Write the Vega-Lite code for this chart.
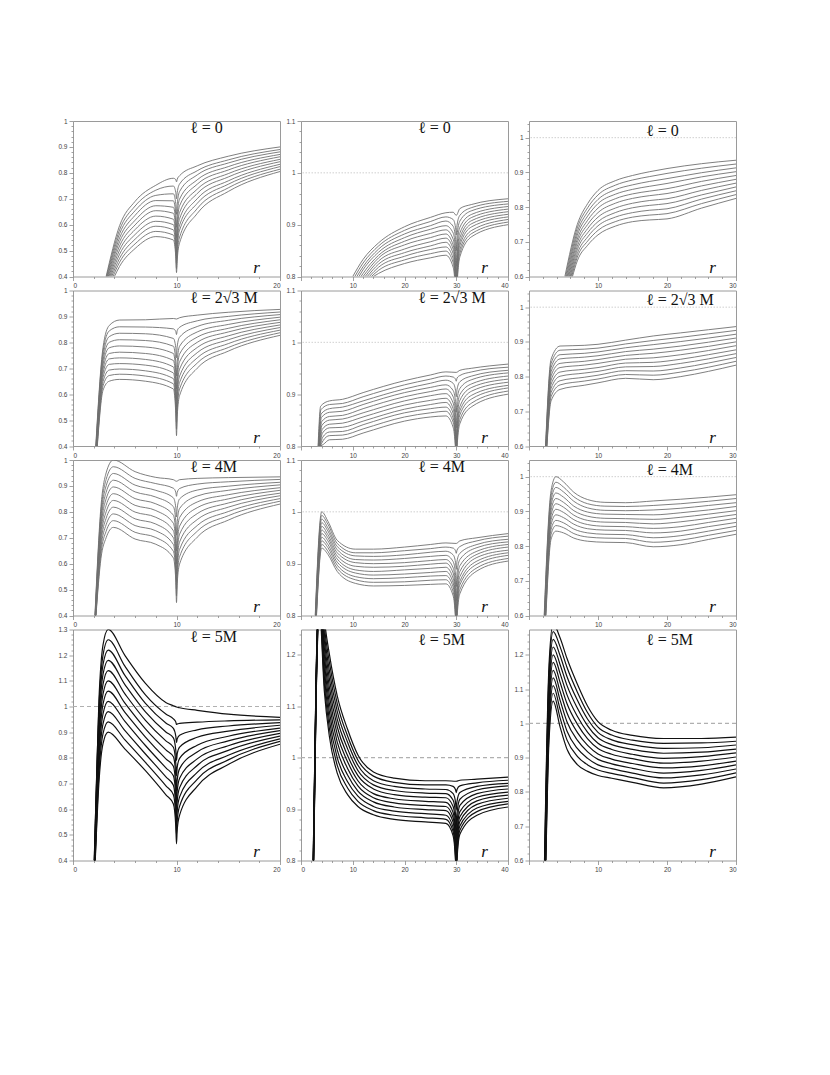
{
"$schema":"https://vega.github.io/schema/vega-lite/v6.json",
"background":"white",
"padding":{"left":57,"top":117,"right":5,"bottom":5},
"columns":3,
"spacing":{"row":13.5,"column":21},
"bounds":"flush",
"config":{
 "view":{"stroke":"#9a9a9a","strokeWidth":1},
 "axis":{"grid":false,"domain":false,"tickColor":"#8a8a8a","tickWidth":0.8,"labelFont":"Liberation Sans","labelFontSize":6.5,"labelColor":"#444","labelPadding":2,"labelOverlap":false,"titleFont":"Liberation Serif","titleFontStyle":"italic","titleFontWeight":"normal","titleFontSize":17,"titleColor":"#111"},
 "axisX":{"titleX":183,"titleY":-4,"titleAlign":"center","titleBaseline":"alphabetic"},
 "title":{"anchor":"start","frame":"group","dx":117,"offset":-18,"font":"Liberation Serif","fontSize":16,"fontWeight":"normal","color":"#111"}
},
"datasets":{
"a1":[
{"c":0,"x":3.2,"y":0.4},{"c":0,"x":4.5,"y":0.596},{"c":0,"x":6,"y":0.69},{"c":0,"x":8,"y":0.752},{"c":0,"x":9.7,"y":0.779},{"c":0,"x":9.93,"y":0.774},{"c":0,"x":10,"y":0.765},{"c":0,"x":10.07,"y":0.775},{"c":0,"x":10.3,"y":0.789},{"c":0,"x":12,"y":0.827},{"c":0,"x":15,"y":0.864},{"c":0,"x":20,"y":0.9},
{"c":1,"x":3.24,"y":0.4},{"c":1,"x":4.5,"y":0.58},{"c":1,"x":6,"y":0.672},{"c":1,"x":8,"y":0.733},{"c":1,"x":9.7,"y":0.749},{"c":1,"x":9.93,"y":0.725},{"c":1,"x":10,"y":0.7},{"c":1,"x":10.07,"y":0.724},{"c":1,"x":10.3,"y":0.757},{"c":1,"x":12,"y":0.808},{"c":1,"x":15,"y":0.85},{"c":1,"x":20,"y":0.89},
{"c":2,"x":3.29,"y":0.4},{"c":2,"x":4.5,"y":0.565},{"c":2,"x":6,"y":0.654},{"c":2,"x":8,"y":0.713},{"c":2,"x":9.7,"y":0.719},{"c":2,"x":9.93,"y":0.681},{"c":2,"x":10,"y":0.64},{"c":2,"x":10.07,"y":0.679},{"c":2,"x":10.3,"y":0.728},{"c":2,"x":12,"y":0.792},{"c":2,"x":15,"y":0.838},{"c":2,"x":20,"y":0.881},
{"c":3,"x":3.34,"y":0.4},{"c":3,"x":4.5,"y":0.549},{"c":3,"x":6,"y":0.636},{"c":3,"x":8,"y":0.693},{"c":3,"x":9.7,"y":0.692},{"c":3,"x":9.93,"y":0.641},{"c":3,"x":10,"y":0.59},{"c":3,"x":10.07,"y":0.637},{"c":3,"x":10.3,"y":0.699},{"c":3,"x":12,"y":0.773},{"c":3,"x":15,"y":0.824},{"c":3,"x":20,"y":0.871},
{"c":4,"x":3.4,"y":0.4},{"c":4,"x":4.5,"y":0.534},{"c":4,"x":6,"y":0.617},{"c":4,"x":8,"y":0.673},{"c":4,"x":9.7,"y":0.667},{"c":4,"x":9.93,"y":0.608},{"c":4,"x":10,"y":0.55},{"c":4,"x":10.07,"y":0.603},{"c":4,"x":10.3,"y":0.673},{"c":4,"x":12,"y":0.756},{"c":4,"x":15,"y":0.811},{"c":4,"x":20,"y":0.862},
{"c":5,"x":3.47,"y":0.4},{"c":5,"x":4.5,"y":0.518},{"c":5,"x":6,"y":0.599},{"c":5,"x":8,"y":0.654},{"c":5,"x":9.7,"y":0.644},{"c":5,"x":9.93,"y":0.582},{"c":5,"x":10,"y":0.52},{"c":5,"x":10.07,"y":0.575},{"c":5,"x":10.3,"y":0.647},{"c":5,"x":12,"y":0.737},{"c":5,"x":15,"y":0.797},{"c":5,"x":20,"y":0.852},
{"c":6,"x":3.55,"y":0.4},{"c":6,"x":4.5,"y":0.502},{"c":6,"x":6,"y":0.581},{"c":6,"x":8,"y":0.633},{"c":6,"x":9.7,"y":0.621},{"c":6,"x":9.93,"y":0.555},{"c":6,"x":10,"y":0.49},{"c":6,"x":10.07,"y":0.549},{"c":6,"x":10.3,"y":0.623},{"c":6,"x":12,"y":0.72},{"c":6,"x":15,"y":0.784},{"c":6,"x":20,"y":0.843},
{"c":7,"x":3.64,"y":0.4},{"c":7,"x":4.5,"y":0.486},{"c":7,"x":6,"y":0.562},{"c":7,"x":8,"y":0.613},{"c":7,"x":9.7,"y":0.6},{"c":7,"x":9.93,"y":0.535},{"c":7,"x":10,"y":0.47},{"c":7,"x":10.07,"y":0.528},{"c":7,"x":10.3,"y":0.598},{"c":7,"x":12,"y":0.7},{"c":7,"x":15,"y":0.769},{"c":7,"x":20,"y":0.833},
{"c":8,"x":3.74,"y":0.4},{"c":8,"x":4.5,"y":0.47},{"c":8,"x":6,"y":0.544},{"c":8,"x":8,"y":0.594},{"c":8,"x":9.7,"y":0.58},{"c":8,"x":9.93,"y":0.515},{"c":8,"x":10,"y":0.45},{"c":8,"x":10.07,"y":0.507},{"c":8,"x":10.3,"y":0.579},{"c":8,"x":12,"y":0.682},{"c":8,"x":15,"y":0.756},{"c":8,"x":20,"y":0.824},
{"c":9,"x":3.86,"y":0.4},{"c":9,"x":4.5,"y":0.455},{"c":9,"x":6,"y":0.526},{"c":9,"x":8,"y":0.574},{"c":9,"x":9.7,"y":0.56},{"c":9,"x":9.93,"y":0.494},{"c":9,"x":10,"y":0.43},{"c":9,"x":10.07,"y":0.484},{"c":9,"x":10.3,"y":0.552},{"c":9,"x":12,"y":0.662},{"c":9,"x":15,"y":0.742},{"c":9,"x":20,"y":0.814},
{"c":10,"x":4,"y":0.4},{"c":10,"x":4.5,"y":0.439},{"c":10,"x":6,"y":0.508},{"c":10,"x":8,"y":0.554},{"c":10,"x":9.7,"y":0.541},{"c":10,"x":9.93,"y":0.477},{"c":10,"x":10,"y":0.415},{"c":10,"x":10.07,"y":0.464},{"c":10,"x":10.3,"y":0.53},{"c":10,"x":12,"y":0.643},{"c":10,"x":15,"y":0.728},{"c":10,"x":20,"y":0.805}
],
"a2":[
{"c":0,"x":2.2,"y":0.4},{"c":0,"x":2.9,"y":0.78},{"c":0,"x":3.5,"y":0.865},{"c":0,"x":4.5,"y":0.886},{"c":0,"x":7,"y":0.887},{"c":0,"x":9.7,"y":0.892},{"c":0,"x":10,"y":0.89},{"c":0,"x":10.3,"y":0.895},{"c":0,"x":12,"y":0.905},{"c":0,"x":15,"y":0.916},{"c":0,"x":20,"y":0.927},
{"c":1,"x":2.215,"y":0.4},{"c":1,"x":2.9,"y":0.764},{"c":1,"x":3.5,"y":0.844},{"c":1,"x":4.5,"y":0.86},{"c":1,"x":7,"y":0.859},{"c":1,"x":9.7,"y":0.852},{"c":1,"x":9.93,"y":0.842},{"c":1,"x":10,"y":0.83},{"c":1,"x":10.07,"y":0.845},{"c":1,"x":10.3,"y":0.858},{"c":1,"x":12,"y":0.883},{"c":1,"x":15,"y":0.9},{"c":1,"x":20,"y":0.917},
{"c":2,"x":2.23,"y":0.4},{"c":2,"x":2.9,"y":0.747},{"c":2,"x":3.5,"y":0.822},{"c":2,"x":4.5,"y":0.835},{"c":2,"x":7,"y":0.833},{"c":2,"x":9.7,"y":0.815},{"c":2,"x":9.93,"y":0.78},{"c":2,"x":10,"y":0.74},{"c":2,"x":10.07,"y":0.785},{"c":2,"x":10.3,"y":0.82},{"c":2,"x":12,"y":0.861},{"c":2,"x":15,"y":0.885},{"c":2,"x":20,"y":0.907},
{"c":3,"x":2.245,"y":0.4},{"c":3,"x":2.9,"y":0.73},{"c":3,"x":3.5,"y":0.8},{"c":3,"x":4.5,"y":0.81},{"c":3,"x":7,"y":0.807},{"c":3,"x":9.7,"y":0.785},{"c":3,"x":9.93,"y":0.727},{"c":3,"x":10,"y":0.67},{"c":3,"x":10.07,"y":0.727},{"c":3,"x":10.3,"y":0.785},{"c":3,"x":12,"y":0.84},{"c":3,"x":15,"y":0.869},{"c":3,"x":20,"y":0.897},
{"c":4,"x":2.26,"y":0.4},{"c":4,"x":2.9,"y":0.714},{"c":4,"x":3.5,"y":0.779},{"c":4,"x":4.5,"y":0.786},{"c":4,"x":7,"y":0.782},{"c":4,"x":9.7,"y":0.757},{"c":4,"x":9.93,"y":0.688},{"c":4,"x":10,"y":0.62},{"c":4,"x":10.07,"y":0.686},{"c":4,"x":10.3,"y":0.755},{"c":4,"x":12,"y":0.82},{"c":4,"x":15,"y":0.854},{"c":4,"x":20,"y":0.887},
{"c":5,"x":2.275,"y":0.4},{"c":5,"x":2.9,"y":0.697},{"c":5,"x":3.5,"y":0.757},{"c":5,"x":4.5,"y":0.762},{"c":5,"x":7,"y":0.757},{"c":5,"x":9.7,"y":0.73},{"c":5,"x":9.93,"y":0.655},{"c":5,"x":10,"y":0.58},{"c":5,"x":10.07,"y":0.652},{"c":5,"x":10.3,"y":0.725},{"c":5,"x":12,"y":0.8},{"c":5,"x":15,"y":0.84},{"c":5,"x":20,"y":0.877},
{"c":6,"x":2.29,"y":0.4},{"c":6,"x":2.9,"y":0.681},{"c":6,"x":3.5,"y":0.736},{"c":6,"x":4.5,"y":0.74},{"c":6,"x":7,"y":0.734},{"c":6,"x":9.7,"y":0.705},{"c":6,"x":9.93,"y":0.626},{"c":6,"x":10,"y":0.55},{"c":6,"x":10.07,"y":0.62},{"c":6,"x":10.3,"y":0.697},{"c":6,"x":12,"y":0.78},{"c":6,"x":15,"y":0.825},{"c":6,"x":20,"y":0.867},
{"c":7,"x":2.305,"y":0.4},{"c":7,"x":2.9,"y":0.665},{"c":7,"x":3.5,"y":0.715},{"c":7,"x":4.5,"y":0.718},{"c":7,"x":7,"y":0.712},{"c":7,"x":9.7,"y":0.682},{"c":7,"x":9.93,"y":0.6},{"c":7,"x":10,"y":0.52},{"c":7,"x":10.07,"y":0.592},{"c":7,"x":10.3,"y":0.67},{"c":7,"x":12,"y":0.76},{"c":7,"x":15,"y":0.81},{"c":7,"x":20,"y":0.857},
{"c":8,"x":2.32,"y":0.4},{"c":8,"x":2.9,"y":0.648},{"c":8,"x":3.5,"y":0.693},{"c":8,"x":4.5,"y":0.697},{"c":8,"x":7,"y":0.69},{"c":8,"x":9.7,"y":0.66},{"c":8,"x":9.93,"y":0.572},{"c":8,"x":10,"y":0.49},{"c":8,"x":10.07,"y":0.564},{"c":8,"x":10.3,"y":0.645},{"c":8,"x":12,"y":0.74},{"c":8,"x":15,"y":0.795},{"c":8,"x":20,"y":0.847},
{"c":9,"x":2.335,"y":0.4},{"c":9,"x":2.9,"y":0.632},{"c":9,"x":3.5,"y":0.672},{"c":9,"x":4.5,"y":0.677},{"c":9,"x":7,"y":0.67},{"c":9,"x":9.7,"y":0.64},{"c":9,"x":9.93,"y":0.55},{"c":9,"x":10,"y":0.465},{"c":9,"x":10.07,"y":0.54},{"c":9,"x":10.3,"y":0.62},{"c":9,"x":12,"y":0.72},{"c":9,"x":15,"y":0.78},{"c":9,"x":20,"y":0.837},
{"c":10,"x":2.35,"y":0.4},{"c":10,"x":2.9,"y":0.615},{"c":10,"x":3.5,"y":0.65},{"c":10,"x":4.5,"y":0.657},{"c":10,"x":7,"y":0.65},{"c":10,"x":9.7,"y":0.62},{"c":10,"x":9.93,"y":0.525},{"c":10,"x":10,"y":0.44},{"c":10,"x":10.07,"y":0.515},{"c":10,"x":10.3,"y":0.595},{"c":10,"x":12,"y":0.7},{"c":10,"x":15,"y":0.766},{"c":10,"x":20,"y":0.827}
],
"a3":[
{"c":0,"x":2.12,"y":0.4},{"c":0,"x":2.7,"y":0.82},{"c":0,"x":3.2,"y":0.95},{"c":0,"x":3.9,"y":1.0},{"c":0,"x":6,"y":0.955},{"c":0,"x":8,"y":0.933},{"c":0,"x":9.7,"y":0.924},{"c":0,"x":10,"y":0.918},{"c":0,"x":10.3,"y":0.924},{"c":0,"x":12,"y":0.929},{"c":0,"x":15,"y":0.932},{"c":0,"x":20,"y":0.935},
{"c":1,"x":2.13,"y":0.4},{"c":1,"x":2.7,"y":0.8},{"c":1,"x":3.2,"y":0.925},{"c":1,"x":3.9,"y":0.974},{"c":1,"x":6,"y":0.929},{"c":1,"x":8,"y":0.909},{"c":1,"x":9.7,"y":0.891},{"c":1,"x":9.93,"y":0.876},{"c":1,"x":10,"y":0.86},{"c":1,"x":10.07,"y":0.875},{"c":1,"x":10.3,"y":0.89},{"c":1,"x":12,"y":0.907},{"c":1,"x":15,"y":0.916},{"c":1,"x":20,"y":0.925},
{"c":2,"x":2.14,"y":0.4},{"c":2,"x":2.7,"y":0.78},{"c":2,"x":3.2,"y":0.9},{"c":2,"x":3.9,"y":0.948},{"c":2,"x":6,"y":0.903},{"c":2,"x":8,"y":0.883},{"c":2,"x":9.7,"y":0.854},{"c":2,"x":9.93,"y":0.817},{"c":2,"x":10,"y":0.78},{"c":2,"x":10.07,"y":0.815},{"c":2,"x":10.3,"y":0.85},{"c":2,"x":12,"y":0.884},{"c":2,"x":15,"y":0.899},{"c":2,"x":20,"y":0.914},
{"c":3,"x":2.15,"y":0.4},{"c":3,"x":2.7,"y":0.76},{"c":3,"x":3.2,"y":0.875},{"c":3,"x":3.9,"y":0.922},{"c":3,"x":6,"y":0.877},{"c":3,"x":8,"y":0.857},{"c":3,"x":9.7,"y":0.82},{"c":3,"x":9.93,"y":0.765},{"c":3,"x":10,"y":0.71},{"c":3,"x":10.07,"y":0.762},{"c":3,"x":10.3,"y":0.813},{"c":3,"x":12,"y":0.861},{"c":3,"x":15,"y":0.883},{"c":3,"x":20,"y":0.904},
{"c":4,"x":2.16,"y":0.4},{"c":4,"x":2.7,"y":0.74},{"c":4,"x":3.2,"y":0.85},{"c":4,"x":3.9,"y":0.896},{"c":4,"x":6,"y":0.851},{"c":4,"x":8,"y":0.831},{"c":4,"x":9.7,"y":0.787},{"c":4,"x":9.93,"y":0.718},{"c":4,"x":10,"y":0.65},{"c":4,"x":10.07,"y":0.714},{"c":4,"x":10.3,"y":0.778},{"c":4,"x":12,"y":0.838},{"c":4,"x":15,"y":0.866},{"c":4,"x":20,"y":0.893},
{"c":5,"x":2.17,"y":0.4},{"c":5,"x":2.7,"y":0.72},{"c":5,"x":3.2,"y":0.825},{"c":5,"x":3.9,"y":0.87},{"c":5,"x":6,"y":0.825},{"c":5,"x":8,"y":0.805},{"c":5,"x":9.7,"y":0.756},{"c":5,"x":9.93,"y":0.678},{"c":5,"x":10,"y":0.6},{"c":5,"x":10.07,"y":0.672},{"c":5,"x":10.3,"y":0.745},{"c":5,"x":12,"y":0.816},{"c":5,"x":15,"y":0.85},{"c":5,"x":20,"y":0.883},
{"c":6,"x":2.18,"y":0.4},{"c":6,"x":2.7,"y":0.7},{"c":6,"x":3.2,"y":0.8},{"c":6,"x":3.9,"y":0.844},{"c":6,"x":6,"y":0.799},{"c":6,"x":8,"y":0.779},{"c":6,"x":9.7,"y":0.727},{"c":6,"x":9.93,"y":0.644},{"c":6,"x":10,"y":0.56},{"c":6,"x":10.07,"y":0.637},{"c":6,"x":10.3,"y":0.714},{"c":6,"x":12,"y":0.793},{"c":6,"x":15,"y":0.834},{"c":6,"x":20,"y":0.872},
{"c":7,"x":2.19,"y":0.4},{"c":7,"x":2.7,"y":0.68},{"c":7,"x":3.2,"y":0.775},{"c":7,"x":3.9,"y":0.818},{"c":7,"x":6,"y":0.773},{"c":7,"x":8,"y":0.753},{"c":7,"x":9.7,"y":0.7},{"c":7,"x":9.93,"y":0.615},{"c":7,"x":10,"y":0.53},{"c":7,"x":10.07,"y":0.607},{"c":7,"x":10.3,"y":0.684},{"c":7,"x":12,"y":0.77},{"c":7,"x":15,"y":0.818},{"c":7,"x":20,"y":0.862},
{"c":8,"x":2.2,"y":0.4},{"c":8,"x":2.7,"y":0.66},{"c":8,"x":3.2,"y":0.75},{"c":8,"x":3.9,"y":0.792},{"c":8,"x":6,"y":0.747},{"c":8,"x":8,"y":0.727},{"c":8,"x":9.7,"y":0.674},{"c":8,"x":9.93,"y":0.587},{"c":8,"x":10,"y":0.5},{"c":8,"x":10.07,"y":0.578},{"c":8,"x":10.3,"y":0.655},{"c":8,"x":12,"y":0.747},{"c":8,"x":15,"y":0.801},{"c":8,"x":20,"y":0.851},
{"c":9,"x":2.21,"y":0.4},{"c":9,"x":2.7,"y":0.64},{"c":9,"x":3.2,"y":0.725},{"c":9,"x":3.9,"y":0.766},{"c":9,"x":6,"y":0.721},{"c":9,"x":8,"y":0.701},{"c":9,"x":9.7,"y":0.648},{"c":9,"x":9.93,"y":0.561},{"c":9,"x":10,"y":0.475},{"c":9,"x":10.07,"y":0.551},{"c":9,"x":10.3,"y":0.627},{"c":9,"x":12,"y":0.725},{"c":9,"x":15,"y":0.785},{"c":9,"x":20,"y":0.841},
{"c":10,"x":2.22,"y":0.4},{"c":10,"x":2.7,"y":0.62},{"c":10,"x":3.2,"y":0.7},{"c":10,"x":3.9,"y":0.74},{"c":10,"x":6,"y":0.695},{"c":10,"x":8,"y":0.675},{"c":10,"x":9.7,"y":0.622},{"c":10,"x":9.93,"y":0.536},{"c":10,"x":10,"y":0.45},{"c":10,"x":10.07,"y":0.524},{"c":10,"x":10.3,"y":0.599},{"c":10,"x":12,"y":0.702},{"c":10,"x":15,"y":0.768},{"c":10,"x":20,"y":0.83}
],
"a4":[
{"c":0,"x":2.05,"y":0.4},{"c":0,"x":2.5,"y":1.02},{"c":0,"x":2.9,"y":1.24},{"c":0,"x":3.4,"y":1.3},{"c":0,"x":5,"y":1.2},{"c":0,"x":7,"y":1.09},{"c":0,"x":9,"y":1.015},{"c":0,"x":9.7,"y":1.003},{"c":0,"x":10,"y":0.998},{"c":0,"x":10.3,"y":0.995},{"c":0,"x":12,"y":0.985},{"c":0,"x":15,"y":0.97},{"c":0,"x":20,"y":0.958},
{"c":1,"x":2.06,"y":0.4},{"c":1,"x":2.5,"y":0.988},{"c":1,"x":2.9,"y":1.2},{"c":1,"x":3.4,"y":1.26},{"c":1,"x":5,"y":1.158},{"c":1,"x":7,"y":1.045},{"c":1,"x":9,"y":0.97},{"c":1,"x":9.7,"y":0.952},{"c":1,"x":9.93,"y":0.94},{"c":1,"x":10,"y":0.93},{"c":1,"x":10.07,"y":0.932},{"c":1,"x":10.3,"y":0.934},{"c":1,"x":12,"y":0.939},{"c":1,"x":15,"y":0.944},{"c":1,"x":20,"y":0.948},
{"c":2,"x":2.07,"y":0.4},{"c":2,"x":2.5,"y":0.956},{"c":2,"x":2.9,"y":1.163},{"c":2,"x":3.4,"y":1.22},{"c":2,"x":5,"y":1.122},{"c":2,"x":7,"y":1.012},{"c":2,"x":9,"y":0.935},{"c":2,"x":9.7,"y":0.915},{"c":2,"x":9.93,"y":0.885},{"c":2,"x":10,"y":0.86},{"c":2,"x":10.07,"y":0.874},{"c":2,"x":10.3,"y":0.888},{"c":2,"x":12,"y":0.909},{"c":2,"x":15,"y":0.924},{"c":2,"x":20,"y":0.937},
{"c":3,"x":2.08,"y":0.4},{"c":3,"x":2.5,"y":0.924},{"c":3,"x":2.9,"y":1.125},{"c":3,"x":3.4,"y":1.18},{"c":3,"x":5,"y":1.086},{"c":3,"x":7,"y":0.979},{"c":3,"x":9,"y":0.9},{"c":3,"x":9.7,"y":0.878},{"c":3,"x":9.93,"y":0.83},{"c":3,"x":10,"y":0.79},{"c":3,"x":10.07,"y":0.816},{"c":3,"x":10.3,"y":0.842},{"c":3,"x":12,"y":0.88},{"c":3,"x":15,"y":0.904},{"c":3,"x":20,"y":0.927},
{"c":4,"x":2.09,"y":0.4},{"c":4,"x":2.5,"y":0.892},{"c":4,"x":2.9,"y":1.086},{"c":4,"x":3.4,"y":1.14},{"c":4,"x":5,"y":1.05},{"c":4,"x":7,"y":0.946},{"c":4,"x":9,"y":0.865},{"c":4,"x":9.7,"y":0.841},{"c":4,"x":9.93,"y":0.78},{"c":4,"x":10,"y":0.73},{"c":4,"x":10.07,"y":0.764},{"c":4,"x":10.3,"y":0.798},{"c":4,"x":12,"y":0.849},{"c":4,"x":15,"y":0.884},{"c":4,"x":20,"y":0.916},
{"c":5,"x":2.1,"y":0.4},{"c":5,"x":2.5,"y":0.86},{"c":5,"x":2.9,"y":1.048},{"c":5,"x":3.4,"y":1.1},{"c":5,"x":5,"y":1.014},{"c":5,"x":7,"y":0.913},{"c":5,"x":9,"y":0.83},{"c":5,"x":9.7,"y":0.804},{"c":5,"x":9.93,"y":0.73},{"c":5,"x":10,"y":0.67},{"c":5,"x":10.07,"y":0.714},{"c":5,"x":10.3,"y":0.758},{"c":5,"x":12,"y":0.823},{"c":5,"x":15,"y":0.866},{"c":5,"x":20,"y":0.906},
{"c":6,"x":2.11,"y":0.4},{"c":6,"x":2.5,"y":0.828},{"c":6,"x":2.9,"y":1.009},{"c":6,"x":3.4,"y":1.06},{"c":6,"x":5,"y":0.978},{"c":6,"x":7,"y":0.881},{"c":6,"x":9,"y":0.795},{"c":6,"x":9.7,"y":0.767},{"c":6,"x":9.93,"y":0.686},{"c":6,"x":10,"y":0.62},{"c":6,"x":10.07,"y":0.67},{"c":6,"x":10.3,"y":0.72},{"c":6,"x":12,"y":0.796},{"c":6,"x":15,"y":0.847},{"c":6,"x":20,"y":0.895},
{"c":7,"x":2.12,"y":0.4},{"c":7,"x":2.5,"y":0.796},{"c":7,"x":2.9,"y":0.971},{"c":7,"x":3.4,"y":1.02},{"c":7,"x":5,"y":0.943},{"c":7,"x":7,"y":0.848},{"c":7,"x":9,"y":0.76},{"c":7,"x":9.7,"y":0.73},{"c":7,"x":9.93,"y":0.648},{"c":7,"x":10,"y":0.58},{"c":7,"x":10.07,"y":0.632},{"c":7,"x":10.3,"y":0.684},{"c":7,"x":12,"y":0.77},{"c":7,"x":15,"y":0.829},{"c":7,"x":20,"y":0.885},
{"c":8,"x":2.13,"y":0.4},{"c":8,"x":2.5,"y":0.764},{"c":8,"x":2.9,"y":0.932},{"c":8,"x":3.4,"y":0.98},{"c":8,"x":5,"y":0.907},{"c":8,"x":7,"y":0.815},{"c":8,"x":9,"y":0.725},{"c":8,"x":9.7,"y":0.693},{"c":8,"x":9.93,"y":0.609},{"c":8,"x":10,"y":0.54},{"c":8,"x":10.07,"y":0.594},{"c":8,"x":10.3,"y":0.648},{"c":8,"x":12,"y":0.743},{"c":8,"x":15,"y":0.81},{"c":8,"x":20,"y":0.874},
{"c":9,"x":2.14,"y":0.4},{"c":9,"x":2.5,"y":0.732},{"c":9,"x":2.9,"y":0.894},{"c":9,"x":3.4,"y":0.94},{"c":9,"x":5,"y":0.871},{"c":9,"x":7,"y":0.782},{"c":9,"x":9,"y":0.69},{"c":9,"x":9.7,"y":0.656},{"c":9,"x":9.93,"y":0.57},{"c":9,"x":10,"y":0.5},{"c":9,"x":10.07,"y":0.556},{"c":9,"x":10.3,"y":0.612},{"c":9,"x":12,"y":0.716},{"c":9,"x":15,"y":0.792},{"c":9,"x":20,"y":0.864},
{"c":10,"x":2.15,"y":0.4},{"c":10,"x":2.5,"y":0.7},{"c":10,"x":2.9,"y":0.855},{"c":10,"x":3.4,"y":0.9},{"c":10,"x":5,"y":0.835},{"c":10,"x":7,"y":0.75},{"c":10,"x":9,"y":0.655},{"c":10,"x":9.7,"y":0.62},{"c":10,"x":9.93,"y":0.535},{"c":10,"x":10,"y":0.465},{"c":10,"x":10.07,"y":0.521},{"c":10,"x":10.3,"y":0.577},{"c":10,"x":12,"y":0.689},{"c":10,"x":15,"y":0.774},{"c":10,"x":20,"y":0.853}
],
"b1":[
{"c":0,"x":10,"y":0.8},{"c":0,"x":12,"y":0.833},{"c":0,"x":15,"y":0.865},{"c":0,"x":20,"y":0.896},{"c":0,"x":25,"y":0.914},{"c":0,"x":28,"y":0.923},{"c":0,"x":29.4,"y":0.924},{"c":0,"x":30,"y":0.918},{"c":0,"x":30.7,"y":0.931},{"c":0,"x":33,"y":0.939},{"c":0,"x":40,"y":0.95},
{"c":1,"x":10.4,"y":0.8},{"c":1,"x":12,"y":0.826},{"c":1,"x":15,"y":0.859},{"c":1,"x":20,"y":0.889},{"c":1,"x":25,"y":0.906},{"c":1,"x":28,"y":0.915},{"c":1,"x":29.4,"y":0.91},{"c":1,"x":29.85,"y":0.895},{"c":1,"x":30,"y":0.88},{"c":1,"x":30.15,"y":0.899},{"c":1,"x":30.7,"y":0.918},{"c":1,"x":33,"y":0.933},{"c":1,"x":40,"y":0.945},
{"c":2,"x":10.8,"y":0.8},{"c":2,"x":12,"y":0.819},{"c":2,"x":15,"y":0.853},{"c":2,"x":20,"y":0.882},{"c":2,"x":25,"y":0.898},{"c":2,"x":28,"y":0.907},{"c":2,"x":29.4,"y":0.897},{"c":2,"x":29.85,"y":0.874},{"c":2,"x":30,"y":0.85},{"c":2,"x":30.15,"y":0.878},{"c":2,"x":30.7,"y":0.907},{"c":2,"x":33,"y":0.927},{"c":2,"x":40,"y":0.94},
{"c":3,"x":11.2,"y":0.8},{"c":3,"x":12,"y":0.813},{"c":3,"x":15,"y":0.847},{"c":3,"x":20,"y":0.875},{"c":3,"x":25,"y":0.891},{"c":3,"x":28,"y":0.898},{"c":3,"x":29.4,"y":0.884},{"c":3,"x":29.85,"y":0.852},{"c":3,"x":30,"y":0.82},{"c":3,"x":30.15,"y":0.858},{"c":3,"x":30.7,"y":0.895},{"c":3,"x":33,"y":0.92},{"c":3,"x":40,"y":0.935},
{"c":4,"x":11.6,"y":0.8},{"c":4,"x":12,"y":0.806},{"c":4,"x":15,"y":0.841},{"c":4,"x":20,"y":0.868},{"c":4,"x":25,"y":0.883},{"c":4,"x":28,"y":0.89},{"c":4,"x":29.4,"y":0.872},{"c":4,"x":29.85,"y":0.831},{"c":4,"x":30,"y":0.79},{"c":4,"x":30.15,"y":0.837},{"c":4,"x":30.7,"y":0.884},{"c":4,"x":33,"y":0.914},{"c":4,"x":40,"y":0.93},
{"c":5,"x":12,"y":0.8},{"c":5,"x":15,"y":0.836},{"c":5,"x":20,"y":0.861},{"c":5,"x":25,"y":0.875},{"c":5,"x":28,"y":0.882},{"c":5,"x":29.4,"y":0.861},{"c":5,"x":29.85,"y":0.816},{"c":5,"x":30,"y":0.77},{"c":5,"x":30.15,"y":0.822},{"c":5,"x":30.7,"y":0.875},{"c":5,"x":33,"y":0.908},{"c":5,"x":40,"y":0.925},
{"c":6,"x":12.4,"y":0.8},{"c":6,"x":15,"y":0.83},{"c":6,"x":20,"y":0.853},{"c":6,"x":25,"y":0.867},{"c":6,"x":28,"y":0.874},{"c":6,"x":29.4,"y":0.853},{"c":6,"x":29.85,"y":0.806},{"c":6,"x":30,"y":0.76},{"c":6,"x":30.15,"y":0.814},{"c":6,"x":30.7,"y":0.867},{"c":6,"x":33,"y":0.902},{"c":6,"x":40,"y":0.92},
{"c":7,"x":12.8,"y":0.8},{"c":7,"x":15,"y":0.824},{"c":7,"x":20,"y":0.846},{"c":7,"x":25,"y":0.859},{"c":7,"x":28,"y":0.866},{"c":7,"x":29.4,"y":0.844},{"c":7,"x":29.85,"y":0.797},{"c":7,"x":30,"y":0.75},{"c":7,"x":30.15,"y":0.805},{"c":7,"x":30.7,"y":0.86},{"c":7,"x":33,"y":0.896},{"c":7,"x":40,"y":0.915},
{"c":8,"x":13.2,"y":0.8},{"c":8,"x":15,"y":0.818},{"c":8,"x":20,"y":0.839},{"c":8,"x":25,"y":0.852},{"c":8,"x":28,"y":0.857},{"c":8,"x":29.4,"y":0.835},{"c":8,"x":29.85,"y":0.787},{"c":8,"x":30,"y":0.74},{"c":8,"x":30.15,"y":0.796},{"c":8,"x":30.7,"y":0.852},{"c":8,"x":33,"y":0.889},{"c":8,"x":40,"y":0.91},
{"c":9,"x":13.6,"y":0.8},{"c":9,"x":15,"y":0.812},{"c":9,"x":20,"y":0.832},{"c":9,"x":25,"y":0.844},{"c":9,"x":28,"y":0.849},{"c":9,"x":29.4,"y":0.827},{"c":9,"x":29.85,"y":0.778},{"c":9,"x":30,"y":0.73},{"c":9,"x":30.15,"y":0.788},{"c":9,"x":30.7,"y":0.845},{"c":9,"x":33,"y":0.883},{"c":9,"x":40,"y":0.905},
{"c":10,"x":14,"y":0.8},{"c":10,"x":15,"y":0.806},{"c":10,"x":20,"y":0.825},{"c":10,"x":25,"y":0.836},{"c":10,"x":28,"y":0.841},{"c":10,"x":29.4,"y":0.818},{"c":10,"x":29.85,"y":0.768},{"c":10,"x":30,"y":0.72},{"c":10,"x":30.15,"y":0.779},{"c":10,"x":30.7,"y":0.838},{"c":10,"x":33,"y":0.877},{"c":10,"x":40,"y":0.9}
],
"b2":[
{"c":0,"x":3.3,"y":0.8},{"c":0,"x":3.8,"y":0.877},{"c":0,"x":5.5,"y":0.887},{"c":0,"x":8,"y":0.89},{"c":0,"x":12,"y":0.903},{"c":0,"x":20,"y":0.926},{"c":0,"x":25,"y":0.937},{"c":0,"x":28,"y":0.943},{"c":0,"x":30,"y":0.942},{"c":0,"x":30.7,"y":0.946},{"c":0,"x":33,"y":0.95},{"c":0,"x":40,"y":0.958},
{"c":1,"x":3.35,"y":0.8},{"c":1,"x":3.85,"y":0.87},{"c":1,"x":5.5,"y":0.88},{"c":1,"x":8,"y":0.882},{"c":1,"x":12,"y":0.895},{"c":1,"x":20,"y":0.918},{"c":1,"x":25,"y":0.929},{"c":1,"x":28,"y":0.935},{"c":1,"x":29.4,"y":0.933},{"c":1,"x":29.85,"y":0.929},{"c":1,"x":30,"y":0.925},{"c":1,"x":30.15,"y":0.931},{"c":1,"x":30.7,"y":0.936},{"c":1,"x":33,"y":0.943},{"c":1,"x":40,"y":0.952},
{"c":2,"x":3.4,"y":0.8},{"c":2,"x":3.9,"y":0.862},{"c":2,"x":5.5,"y":0.872},{"c":2,"x":8,"y":0.875},{"c":2,"x":12,"y":0.887},{"c":2,"x":20,"y":0.91},{"c":2,"x":25,"y":0.921},{"c":2,"x":28,"y":0.927},{"c":2,"x":29.4,"y":0.921},{"c":2,"x":29.85,"y":0.908},{"c":2,"x":30,"y":0.895},{"c":2,"x":30.15,"y":0.909},{"c":2,"x":30.7,"y":0.924},{"c":2,"x":33,"y":0.935},{"c":2,"x":40,"y":0.946},
{"c":3,"x":3.45,"y":0.8},{"c":3,"x":3.95,"y":0.855},{"c":3,"x":5.5,"y":0.865},{"c":3,"x":8,"y":0.867},{"c":3,"x":12,"y":0.88},{"c":3,"x":20,"y":0.903},{"c":3,"x":25,"y":0.913},{"c":3,"x":28,"y":0.918},{"c":3,"x":29.4,"y":0.907},{"c":3,"x":29.85,"y":0.886},{"c":3,"x":30,"y":0.865},{"c":3,"x":30.15,"y":0.888},{"c":3,"x":30.7,"y":0.911},{"c":3,"x":33,"y":0.928},{"c":3,"x":40,"y":0.941},
{"c":4,"x":3.5,"y":0.8},{"c":4,"x":4,"y":0.847},{"c":4,"x":5.5,"y":0.857},{"c":4,"x":8,"y":0.859},{"c":4,"x":12,"y":0.872},{"c":4,"x":20,"y":0.895},{"c":4,"x":25,"y":0.905},{"c":4,"x":28,"y":0.91},{"c":4,"x":29.4,"y":0.895},{"c":4,"x":29.85,"y":0.865},{"c":4,"x":30,"y":0.835},{"c":4,"x":30.15,"y":0.867},{"c":4,"x":30.7,"y":0.899},{"c":4,"x":33,"y":0.92},{"c":4,"x":40,"y":0.935},
{"c":5,"x":3.55,"y":0.8},{"c":5,"x":4.05,"y":0.84},{"c":5,"x":5.5,"y":0.85},{"c":5,"x":8,"y":0.852},{"c":5,"x":12,"y":0.864},{"c":5,"x":20,"y":0.887},{"c":5,"x":25,"y":0.897},{"c":5,"x":28,"y":0.901},{"c":5,"x":29.4,"y":0.883},{"c":5,"x":29.85,"y":0.846},{"c":5,"x":30,"y":0.81},{"c":5,"x":30.15,"y":0.849},{"c":5,"x":30.7,"y":0.888},{"c":5,"x":33,"y":0.913},{"c":5,"x":40,"y":0.929},
{"c":6,"x":3.6,"y":0.8},{"c":6,"x":4.1,"y":0.832},{"c":6,"x":5.5,"y":0.842},{"c":6,"x":8,"y":0.844},{"c":6,"x":12,"y":0.856},{"c":6,"x":20,"y":0.879},{"c":6,"x":25,"y":0.888},{"c":6,"x":28,"y":0.892},{"c":6,"x":29.4,"y":0.872},{"c":6,"x":29.85,"y":0.831},{"c":6,"x":30,"y":0.79},{"c":6,"x":30.15,"y":0.833},{"c":6,"x":30.7,"y":0.876},{"c":6,"x":33,"y":0.906},{"c":6,"x":40,"y":0.923},
{"c":7,"x":3.65,"y":0.8},{"c":7,"x":4.15,"y":0.825},{"c":7,"x":5.5,"y":0.835},{"c":7,"x":8,"y":0.836},{"c":7,"x":12,"y":0.848},{"c":7,"x":20,"y":0.871},{"c":7,"x":25,"y":0.88},{"c":7,"x":28,"y":0.884},{"c":7,"x":29.4,"y":0.863},{"c":7,"x":29.85,"y":0.822},{"c":7,"x":30,"y":0.78},{"c":7,"x":30.15,"y":0.824},{"c":7,"x":30.7,"y":0.868},{"c":7,"x":33,"y":0.898},{"c":7,"x":40,"y":0.917},
{"c":8,"x":3.7,"y":0.8},{"c":8,"x":4.2,"y":0.817},{"c":8,"x":5.5,"y":0.827},{"c":8,"x":8,"y":0.828},{"c":8,"x":12,"y":0.841},{"c":8,"x":20,"y":0.864},{"c":8,"x":25,"y":0.872},{"c":8,"x":28,"y":0.875},{"c":8,"x":29.4,"y":0.854},{"c":8,"x":29.85,"y":0.812},{"c":8,"x":30,"y":0.77},{"c":8,"x":30.15,"y":0.815},{"c":8,"x":30.7,"y":0.86},{"c":8,"x":33,"y":0.891},{"c":8,"x":40,"y":0.912},
{"c":9,"x":3.75,"y":0.8},{"c":9,"x":4.25,"y":0.81},{"c":9,"x":5.5,"y":0.82},{"c":9,"x":8,"y":0.821},{"c":9,"x":12,"y":0.833},{"c":9,"x":20,"y":0.856},{"c":9,"x":25,"y":0.864},{"c":9,"x":28,"y":0.867},{"c":9,"x":29.4,"y":0.846},{"c":9,"x":29.85,"y":0.803},{"c":9,"x":30,"y":0.76},{"c":9,"x":30.15,"y":0.806},{"c":9,"x":30.7,"y":0.851},{"c":9,"x":33,"y":0.883},{"c":9,"x":40,"y":0.906},
{"c":10,"x":3.8,"y":0.8},{"c":10,"x":4.3,"y":0.803},{"c":10,"x":5.5,"y":0.812},{"c":10,"x":8,"y":0.813},{"c":10,"x":12,"y":0.825},{"c":10,"x":20,"y":0.848},{"c":10,"x":25,"y":0.856},{"c":10,"x":28,"y":0.858},{"c":10,"x":29.4,"y":0.836},{"c":10,"x":29.85,"y":0.793},{"c":10,"x":30,"y":0.75},{"c":10,"x":30.15,"y":0.796},{"c":10,"x":30.7,"y":0.843},{"c":10,"x":33,"y":0.876},{"c":10,"x":40,"y":0.9}
],
"b3":[
{"c":0,"x":2.75,"y":0.8},{"c":0,"x":4,"y":1.0},{"c":0,"x":5.2,"y":0.982},{"c":0,"x":7,"y":0.945},{"c":0,"x":10.5,"y":0.928},{"c":0,"x":14,"y":0.928},{"c":0,"x":20,"y":0.932},{"c":0,"x":25,"y":0.937},{"c":0,"x":28,"y":0.94},{"c":0,"x":30,"y":0.939},{"c":0,"x":30.7,"y":0.944},{"c":0,"x":34,"y":0.95},{"c":0,"x":40,"y":0.958},
{"c":1,"x":2.775,"y":0.8},{"c":1,"x":4,"y":0.993},{"c":1,"x":5.2,"y":0.976},{"c":1,"x":7,"y":0.939},{"c":1,"x":10.5,"y":0.921},{"c":1,"x":14,"y":0.921},{"c":1,"x":20,"y":0.925},{"c":1,"x":25,"y":0.929},{"c":1,"x":28,"y":0.932},{"c":1,"x":29.4,"y":0.93},{"c":1,"x":29.85,"y":0.925},{"c":1,"x":30,"y":0.92},{"c":1,"x":30.15,"y":0.926},{"c":1,"x":30.7,"y":0.933},{"c":1,"x":34,"y":0.944},{"c":1,"x":40,"y":0.953},
{"c":2,"x":2.8,"y":0.8},{"c":2,"x":4,"y":0.986},{"c":2,"x":5.2,"y":0.969},{"c":2,"x":7,"y":0.933},{"c":2,"x":10.5,"y":0.915},{"c":2,"x":14,"y":0.914},{"c":2,"x":20,"y":0.917},{"c":2,"x":25,"y":0.922},{"c":2,"x":28,"y":0.924},{"c":2,"x":29.4,"y":0.917},{"c":2,"x":29.85,"y":0.903},{"c":2,"x":30,"y":0.889},{"c":2,"x":30.15,"y":0.905},{"c":2,"x":30.7,"y":0.92},{"c":2,"x":34,"y":0.937},{"c":2,"x":40,"y":0.947},
{"c":3,"x":2.825,"y":0.8},{"c":3,"x":4,"y":0.979},{"c":3,"x":5.2,"y":0.963},{"c":3,"x":7,"y":0.927},{"c":3,"x":10.5,"y":0.908},{"c":3,"x":14,"y":0.907},{"c":3,"x":20,"y":0.91},{"c":3,"x":25,"y":0.914},{"c":3,"x":28,"y":0.916},{"c":3,"x":29.4,"y":0.904},{"c":3,"x":29.85,"y":0.88},{"c":3,"x":30,"y":0.856},{"c":3,"x":30.15,"y":0.882},{"c":3,"x":30.7,"y":0.908},{"c":3,"x":34,"y":0.931},{"c":3,"x":40,"y":0.942},
{"c":4,"x":2.85,"y":0.8},{"c":4,"x":4,"y":0.972},{"c":4,"x":5.2,"y":0.956},{"c":4,"x":7,"y":0.921},{"c":4,"x":10.5,"y":0.902},{"c":4,"x":14,"y":0.9},{"c":4,"x":20,"y":0.902},{"c":4,"x":25,"y":0.906},{"c":4,"x":28,"y":0.908},{"c":4,"x":29.4,"y":0.892},{"c":4,"x":29.85,"y":0.86},{"c":4,"x":30,"y":0.828},{"c":4,"x":30.15,"y":0.862},{"c":4,"x":30.7,"y":0.896},{"c":4,"x":34,"y":0.924},{"c":4,"x":40,"y":0.937},
{"c":5,"x":2.875,"y":0.8},{"c":5,"x":4,"y":0.965},{"c":5,"x":5.2,"y":0.95},{"c":5,"x":7,"y":0.915},{"c":5,"x":10.5,"y":0.895},{"c":5,"x":14,"y":0.893},{"c":5,"x":20,"y":0.895},{"c":5,"x":25,"y":0.899},{"c":5,"x":28,"y":0.901},{"c":5,"x":29.4,"y":0.882},{"c":5,"x":29.85,"y":0.844},{"c":5,"x":30,"y":0.806},{"c":5,"x":30.15,"y":0.846},{"c":5,"x":30.7,"y":0.885},{"c":5,"x":34,"y":0.918},{"c":5,"x":40,"y":0.932},
{"c":6,"x":2.9,"y":0.8},{"c":6,"x":4,"y":0.958},{"c":6,"x":5.2,"y":0.944},{"c":6,"x":7,"y":0.909},{"c":6,"x":10.5,"y":0.888},{"c":6,"x":14,"y":0.885},{"c":6,"x":20,"y":0.888},{"c":6,"x":25,"y":0.891},{"c":6,"x":28,"y":0.893},{"c":6,"x":29.4,"y":0.872},{"c":6,"x":29.85,"y":0.83},{"c":6,"x":30,"y":0.788},{"c":6,"x":30.15,"y":0.832},{"c":6,"x":30.7,"y":0.875},{"c":6,"x":34,"y":0.912},{"c":6,"x":40,"y":0.926},
{"c":7,"x":2.925,"y":0.8},{"c":7,"x":4,"y":0.951},{"c":7,"x":5.2,"y":0.937},{"c":7,"x":7,"y":0.903},{"c":7,"x":10.5,"y":0.882},{"c":7,"x":14,"y":0.878},{"c":7,"x":20,"y":0.88},{"c":7,"x":25,"y":0.883},{"c":7,"x":28,"y":0.885},{"c":7,"x":29.4,"y":0.863},{"c":7,"x":29.85,"y":0.819},{"c":7,"x":30,"y":0.775},{"c":7,"x":30.15,"y":0.821},{"c":7,"x":30.7,"y":0.866},{"c":7,"x":34,"y":0.905},{"c":7,"x":40,"y":0.921},
{"c":8,"x":2.95,"y":0.8},{"c":8,"x":4,"y":0.944},{"c":8,"x":5.2,"y":0.931},{"c":8,"x":7,"y":0.897},{"c":8,"x":10.5,"y":0.875},{"c":8,"x":14,"y":0.871},{"c":8,"x":20,"y":0.873},{"c":8,"x":25,"y":0.876},{"c":8,"x":28,"y":0.877},{"c":8,"x":29.4,"y":0.855},{"c":8,"x":29.85,"y":0.81},{"c":8,"x":30,"y":0.765},{"c":8,"x":30.15,"y":0.812},{"c":8,"x":30.7,"y":0.859},{"c":8,"x":34,"y":0.899},{"c":8,"x":40,"y":0.916},
{"c":9,"x":2.975,"y":0.8},{"c":9,"x":4,"y":0.937},{"c":9,"x":5.2,"y":0.924},{"c":9,"x":7,"y":0.891},{"c":9,"x":10.5,"y":0.869},{"c":9,"x":14,"y":0.864},{"c":9,"x":20,"y":0.865},{"c":9,"x":25,"y":0.868},{"c":9,"x":28,"y":0.869},{"c":9,"x":29.4,"y":0.846},{"c":9,"x":29.85,"y":0.801},{"c":9,"x":30,"y":0.756},{"c":9,"x":30.15,"y":0.803},{"c":9,"x":30.7,"y":0.85},{"c":9,"x":34,"y":0.892},{"c":9,"x":40,"y":0.91},
{"c":10,"x":3,"y":0.8},{"c":10,"x":4,"y":0.93},{"c":10,"x":5.2,"y":0.918},{"c":10,"x":7,"y":0.885},{"c":10,"x":10.5,"y":0.862},{"c":10,"x":14,"y":0.857},{"c":10,"x":20,"y":0.858},{"c":10,"x":25,"y":0.86},{"c":10,"x":28,"y":0.861},{"c":10,"x":29.4,"y":0.838},{"c":10,"x":29.85,"y":0.792},{"c":10,"x":30,"y":0.746},{"c":10,"x":30.15,"y":0.794},{"c":10,"x":30.7,"y":0.842},{"c":10,"x":34,"y":0.886},{"c":10,"x":40,"y":0.905}
],
"b4":[
{"c":0,"x":2.35,"y":0.8},{"c":0,"x":2.9,"y":1.15},{"c":0,"x":3.6,"y":1.38},{"c":0,"x":4.5,"y":1.27},{"c":0,"x":5.5,"y":1.2},{"c":0,"x":7,"y":1.12},{"c":0,"x":9,"y":1.055},{"c":0,"x":11,"y":1.005},{"c":0,"x":14,"y":0.972},{"c":0,"x":18,"y":0.96},{"c":0,"x":24,"y":0.955},{"c":0,"x":28,"y":0.955},{"c":0,"x":30,"y":0.954},{"c":0,"x":30.7,"y":0.956},{"c":0,"x":34,"y":0.958},{"c":0,"x":40,"y":0.962},
{"c":1,"x":2.36,"y":0.8},{"c":1,"x":2.9,"y":1.145},{"c":1,"x":3.6,"y":1.37},{"c":1,"x":4.5,"y":1.256},{"c":1,"x":5.5,"y":1.184},{"c":1,"x":7,"y":1.105},{"c":1,"x":9,"y":1.042},{"c":1,"x":11,"y":0.995},{"c":1,"x":14,"y":0.964},{"c":1,"x":18,"y":0.952},{"c":1,"x":24,"y":0.947},{"c":1,"x":28,"y":0.947},{"c":1,"x":29.4,"y":0.944},{"c":1,"x":29.85,"y":0.938},{"c":1,"x":30,"y":0.932},{"c":1,"x":30.15,"y":0.938},{"c":1,"x":30.7,"y":0.945},{"c":1,"x":34,"y":0.951},{"c":1,"x":40,"y":0.956},
{"c":2,"x":2.37,"y":0.8},{"c":2,"x":2.9,"y":1.14},{"c":2,"x":3.6,"y":1.36},{"c":2,"x":4.5,"y":1.242},{"c":2,"x":5.5,"y":1.168},{"c":2,"x":7,"y":1.09},{"c":2,"x":9,"y":1.03},{"c":2,"x":11,"y":0.985},{"c":2,"x":14,"y":0.955},{"c":2,"x":18,"y":0.944},{"c":2,"x":24,"y":0.939},{"c":2,"x":28,"y":0.938},{"c":2,"x":29.4,"y":0.93},{"c":2,"x":29.85,"y":0.914},{"c":2,"x":30,"y":0.898},{"c":2,"x":30.15,"y":0.915},{"c":2,"x":30.7,"y":0.932},{"c":2,"x":34,"y":0.944},{"c":2,"x":40,"y":0.95},
{"c":3,"x":2.38,"y":0.8},{"c":3,"x":2.9,"y":1.135},{"c":3,"x":3.6,"y":1.35},{"c":3,"x":4.5,"y":1.228},{"c":3,"x":5.5,"y":1.152},{"c":3,"x":7,"y":1.075},{"c":3,"x":9,"y":1.017},{"c":3,"x":11,"y":0.975},{"c":3,"x":14,"y":0.947},{"c":3,"x":18,"y":0.936},{"c":3,"x":24,"y":0.931},{"c":3,"x":28,"y":0.93},{"c":3,"x":29.4,"y":0.917},{"c":3,"x":29.85,"y":0.891},{"c":3,"x":30,"y":0.865},{"c":3,"x":30.15,"y":0.892},{"c":3,"x":30.7,"y":0.919},{"c":3,"x":34,"y":0.937},{"c":3,"x":40,"y":0.945},
{"c":4,"x":2.39,"y":0.8},{"c":4,"x":2.9,"y":1.13},{"c":4,"x":3.6,"y":1.34},{"c":4,"x":4.5,"y":1.214},{"c":4,"x":5.5,"y":1.136},{"c":4,"x":7,"y":1.06},{"c":4,"x":9,"y":1.004},{"c":4,"x":11,"y":0.965},{"c":4,"x":14,"y":0.939},{"c":4,"x":18,"y":0.928},{"c":4,"x":24,"y":0.923},{"c":4,"x":28,"y":0.922},{"c":4,"x":29.4,"y":0.905},{"c":4,"x":29.85,"y":0.871},{"c":4,"x":30,"y":0.837},{"c":4,"x":30.15,"y":0.872},{"c":4,"x":30.7,"y":0.907},{"c":4,"x":34,"y":0.93},{"c":4,"x":40,"y":0.939},
{"c":5,"x":2.4,"y":0.8},{"c":5,"x":2.9,"y":1.125},{"c":5,"x":3.6,"y":1.33},{"c":5,"x":4.5,"y":1.2},{"c":5,"x":5.5,"y":1.12},{"c":5,"x":7,"y":1.045},{"c":5,"x":9,"y":0.992},{"c":5,"x":11,"y":0.955},{"c":5,"x":14,"y":0.93},{"c":5,"x":18,"y":0.92},{"c":5,"x":24,"y":0.915},{"c":5,"x":28,"y":0.913},{"c":5,"x":29.4,"y":0.893},{"c":5,"x":29.85,"y":0.853},{"c":5,"x":30,"y":0.813},{"c":5,"x":30.15,"y":0.854},{"c":5,"x":30.7,"y":0.895},{"c":5,"x":34,"y":0.923},{"c":5,"x":40,"y":0.933},
{"c":6,"x":2.41,"y":0.8},{"c":6,"x":2.9,"y":1.12},{"c":6,"x":3.6,"y":1.32},{"c":6,"x":4.5,"y":1.186},{"c":6,"x":5.5,"y":1.104},{"c":6,"x":7,"y":1.03},{"c":6,"x":9,"y":0.979},{"c":6,"x":11,"y":0.945},{"c":6,"x":14,"y":0.922},{"c":6,"x":18,"y":0.912},{"c":6,"x":24,"y":0.907},{"c":6,"x":28,"y":0.905},{"c":6,"x":29.4,"y":0.883},{"c":6,"x":29.85,"y":0.839},{"c":6,"x":30,"y":0.795},{"c":6,"x":30.15,"y":0.84},{"c":6,"x":30.7,"y":0.885},{"c":6,"x":34,"y":0.916},{"c":6,"x":40,"y":0.927},
{"c":7,"x":2.42,"y":0.8},{"c":7,"x":2.9,"y":1.115},{"c":7,"x":3.6,"y":1.31},{"c":7,"x":4.5,"y":1.172},{"c":7,"x":5.5,"y":1.088},{"c":7,"x":7,"y":1.015},{"c":7,"x":9,"y":0.966},{"c":7,"x":11,"y":0.935},{"c":7,"x":14,"y":0.914},{"c":7,"x":18,"y":0.904},{"c":7,"x":24,"y":0.899},{"c":7,"x":28,"y":0.897},{"c":7,"x":29.4,"y":0.874},{"c":7,"x":29.85,"y":0.828},{"c":7,"x":30,"y":0.782},{"c":7,"x":30.15,"y":0.829},{"c":7,"x":30.7,"y":0.876},{"c":7,"x":34,"y":0.909},{"c":7,"x":40,"y":0.921},
{"c":8,"x":2.43,"y":0.8},{"c":8,"x":2.9,"y":1.11},{"c":8,"x":3.6,"y":1.3},{"c":8,"x":4.5,"y":1.158},{"c":8,"x":5.5,"y":1.072},{"c":8,"x":7,"y":1.0},{"c":8,"x":9,"y":0.953},{"c":8,"x":11,"y":0.925},{"c":8,"x":14,"y":0.905},{"c":8,"x":18,"y":0.896},{"c":8,"x":24,"y":0.891},{"c":8,"x":28,"y":0.888},{"c":8,"x":29.4,"y":0.864},{"c":8,"x":29.85,"y":0.816},{"c":8,"x":30,"y":0.768},{"c":8,"x":30.15,"y":0.818},{"c":8,"x":30.7,"y":0.867},{"c":8,"x":34,"y":0.902},{"c":8,"x":40,"y":0.915},
{"c":9,"x":2.44,"y":0.8},{"c":9,"x":2.9,"y":1.105},{"c":9,"x":3.6,"y":1.29},{"c":9,"x":4.5,"y":1.144},{"c":9,"x":5.5,"y":1.056},{"c":9,"x":7,"y":0.985},{"c":9,"x":9,"y":0.941},{"c":9,"x":11,"y":0.915},{"c":9,"x":14,"y":0.897},{"c":9,"x":18,"y":0.888},{"c":9,"x":24,"y":0.883},{"c":9,"x":28,"y":0.88},{"c":9,"x":29.4,"y":0.856},{"c":9,"x":29.85,"y":0.808},{"c":9,"x":30,"y":0.76},{"c":9,"x":30.15,"y":0.81},{"c":9,"x":30.7,"y":0.859},{"c":9,"x":34,"y":0.895},{"c":9,"x":40,"y":0.91},
{"c":10,"x":2.45,"y":0.8},{"c":10,"x":2.9,"y":1.1},{"c":10,"x":3.6,"y":1.28},{"c":10,"x":4.5,"y":1.13},{"c":10,"x":5.5,"y":1.04},{"c":10,"x":7,"y":0.97},{"c":10,"x":9,"y":0.928},{"c":10,"x":11,"y":0.905},{"c":10,"x":14,"y":0.889},{"c":10,"x":18,"y":0.88},{"c":10,"x":24,"y":0.875},{"c":10,"x":28,"y":0.872},{"c":10,"x":29.4,"y":0.848},{"c":10,"x":29.85,"y":0.8},{"c":10,"x":30,"y":0.752},{"c":10,"x":30.15,"y":0.802},{"c":10,"x":30.7,"y":0.851},{"c":10,"x":34,"y":0.888},{"c":10,"x":40,"y":0.904}
],
"c1":[
{"c":0,"x":5.2,"y":0.6},{"c":0,"x":7,"y":0.75},{"c":0,"x":8.5,"y":0.81},{"c":0,"x":10,"y":0.848},{"c":0,"x":12.5,"y":0.876},{"c":0,"x":15,"y":0.891},{"c":0,"x":17.5,"y":0.902},{"c":0,"x":20,"y":0.911},{"c":0,"x":25,"y":0.925},{"c":0,"x":30,"y":0.935},
{"c":1,"x":5.31,"y":0.6},{"c":1,"x":7,"y":0.74},{"c":1,"x":8.5,"y":0.798},{"c":1,"x":10,"y":0.835},{"c":1,"x":12.5,"y":0.863},{"c":1,"x":15,"y":0.878},{"c":1,"x":17.5,"y":0.888},{"c":1,"x":20,"y":0.897},{"c":1,"x":25,"y":0.912},{"c":1,"x":30,"y":0.924},
{"c":2,"x":5.42,"y":0.6},{"c":2,"x":7,"y":0.729},{"c":2,"x":8.5,"y":0.786},{"c":2,"x":10,"y":0.822},{"c":2,"x":12.5,"y":0.85},{"c":2,"x":15,"y":0.864},{"c":2,"x":17.5,"y":0.874},{"c":2,"x":20,"y":0.882},{"c":2,"x":25,"y":0.899},{"c":2,"x":30,"y":0.913},
{"c":3,"x":5.53,"y":0.6},{"c":3,"x":7,"y":0.719},{"c":3,"x":8.5,"y":0.774},{"c":3,"x":10,"y":0.81},{"c":3,"x":12.5,"y":0.837},{"c":3,"x":15,"y":0.851},{"c":3,"x":17.5,"y":0.86},{"c":3,"x":20,"y":0.868},{"c":3,"x":25,"y":0.887},{"c":3,"x":30,"y":0.902},
{"c":4,"x":5.64,"y":0.6},{"c":4,"x":7,"y":0.708},{"c":4,"x":8.5,"y":0.762},{"c":4,"x":10,"y":0.797},{"c":4,"x":12.5,"y":0.824},{"c":4,"x":15,"y":0.838},{"c":4,"x":17.5,"y":0.846},{"c":4,"x":20,"y":0.853},{"c":4,"x":25,"y":0.874},{"c":4,"x":30,"y":0.891},
{"c":5,"x":5.75,"y":0.6},{"c":5,"x":7,"y":0.698},{"c":5,"x":8.5,"y":0.75},{"c":5,"x":10,"y":0.784},{"c":5,"x":12.5,"y":0.811},{"c":5,"x":15,"y":0.825},{"c":5,"x":17.5,"y":0.833},{"c":5,"x":20,"y":0.839},{"c":5,"x":25,"y":0.861},{"c":5,"x":30,"y":0.88},
{"c":6,"x":5.86,"y":0.6},{"c":6,"x":7,"y":0.687},{"c":6,"x":8.5,"y":0.738},{"c":6,"x":10,"y":0.771},{"c":6,"x":12.5,"y":0.797},{"c":6,"x":15,"y":0.811},{"c":6,"x":17.5,"y":0.819},{"c":6,"x":20,"y":0.824},{"c":6,"x":25,"y":0.848},{"c":6,"x":30,"y":0.869},
{"c":7,"x":5.97,"y":0.6},{"c":7,"x":7,"y":0.677},{"c":7,"x":8.5,"y":0.726},{"c":7,"x":10,"y":0.758},{"c":7,"x":12.5,"y":0.784},{"c":7,"x":15,"y":0.798},{"c":7,"x":17.5,"y":0.805},{"c":7,"x":20,"y":0.81},{"c":7,"x":25,"y":0.835},{"c":7,"x":30,"y":0.858},
{"c":8,"x":6.08,"y":0.6},{"c":8,"x":7,"y":0.666},{"c":8,"x":8.5,"y":0.714},{"c":8,"x":10,"y":0.746},{"c":8,"x":12.5,"y":0.771},{"c":8,"x":15,"y":0.784},{"c":8,"x":17.5,"y":0.791},{"c":8,"x":20,"y":0.795},{"c":8,"x":25,"y":0.823},{"c":8,"x":30,"y":0.847},
{"c":9,"x":6.19,"y":0.6},{"c":9,"x":7,"y":0.656},{"c":9,"x":8.5,"y":0.702},{"c":9,"x":10,"y":0.733},{"c":9,"x":12.5,"y":0.758},{"c":9,"x":15,"y":0.771},{"c":9,"x":17.5,"y":0.777},{"c":9,"x":20,"y":0.781},{"c":9,"x":25,"y":0.81},{"c":9,"x":30,"y":0.836},
{"c":10,"x":6.3,"y":0.6},{"c":10,"x":7,"y":0.645},{"c":10,"x":8.5,"y":0.69},{"c":10,"x":10,"y":0.72},{"c":10,"x":12.5,"y":0.745},{"c":10,"x":15,"y":0.758},{"c":10,"x":17.5,"y":0.763},{"c":10,"x":20,"y":0.766},{"c":10,"x":25,"y":0.797},{"c":10,"x":30,"y":0.825}
],
"c2":[
{"c":0,"x":2.4,"y":0.6},{"c":0,"x":3.2,"y":0.85},{"c":0,"x":4.5,"y":0.888},{"c":0,"x":8,"y":0.89},{"c":0,"x":10,"y":0.893},{"c":0,"x":14,"y":0.905},{"c":0,"x":18,"y":0.917},{"c":0,"x":22,"y":0.926},{"c":0,"x":26,"y":0.935},{"c":0,"x":30,"y":0.944},
{"c":1,"x":2.42,"y":0.6},{"c":1,"x":3.2,"y":0.838},{"c":1,"x":4.5,"y":0.876},{"c":1,"x":8,"y":0.879},{"c":1,"x":10,"y":0.882},{"c":1,"x":14,"y":0.894},{"c":1,"x":18,"y":0.904},{"c":1,"x":22,"y":0.913},{"c":1,"x":26,"y":0.923},{"c":1,"x":30,"y":0.933},
{"c":2,"x":2.44,"y":0.6},{"c":2,"x":3.2,"y":0.826},{"c":2,"x":4.5,"y":0.863},{"c":2,"x":8,"y":0.867},{"c":2,"x":10,"y":0.871},{"c":2,"x":14,"y":0.883},{"c":2,"x":18,"y":0.892},{"c":2,"x":22,"y":0.901},{"c":2,"x":26,"y":0.911},{"c":2,"x":30,"y":0.922},
{"c":3,"x":2.46,"y":0.6},{"c":3,"x":3.2,"y":0.814},{"c":3,"x":4.5,"y":0.851},{"c":3,"x":8,"y":0.856},{"c":3,"x":10,"y":0.86},{"c":3,"x":14,"y":0.872},{"c":3,"x":18,"y":0.879},{"c":3,"x":22,"y":0.888},{"c":3,"x":26,"y":0.899},{"c":3,"x":30,"y":0.911},
{"c":4,"x":2.48,"y":0.6},{"c":4,"x":3.2,"y":0.802},{"c":4,"x":4.5,"y":0.838},{"c":4,"x":8,"y":0.844},{"c":4,"x":10,"y":0.849},{"c":4,"x":14,"y":0.861},{"c":4,"x":18,"y":0.867},{"c":4,"x":22,"y":0.876},{"c":4,"x":26,"y":0.887},{"c":4,"x":30,"y":0.9},
{"c":5,"x":2.5,"y":0.6},{"c":5,"x":3.2,"y":0.79},{"c":5,"x":4.5,"y":0.826},{"c":5,"x":8,"y":0.833},{"c":5,"x":10,"y":0.838},{"c":5,"x":14,"y":0.85},{"c":5,"x":18,"y":0.854},{"c":5,"x":22,"y":0.863},{"c":5,"x":26,"y":0.875},{"c":5,"x":30,"y":0.889},
{"c":6,"x":2.52,"y":0.6},{"c":6,"x":3.2,"y":0.778},{"c":6,"x":4.5,"y":0.813},{"c":6,"x":8,"y":0.821},{"c":6,"x":10,"y":0.826},{"c":6,"x":14,"y":0.839},{"c":6,"x":18,"y":0.841},{"c":6,"x":22,"y":0.85},{"c":6,"x":26,"y":0.863},{"c":6,"x":30,"y":0.877},
{"c":7,"x":2.54,"y":0.6},{"c":7,"x":3.2,"y":0.766},{"c":7,"x":4.5,"y":0.801},{"c":7,"x":8,"y":0.81},{"c":7,"x":10,"y":0.815},{"c":7,"x":14,"y":0.828},{"c":7,"x":18,"y":0.829},{"c":7,"x":22,"y":0.838},{"c":7,"x":26,"y":0.851},{"c":7,"x":30,"y":0.866},
{"c":8,"x":2.56,"y":0.6},{"c":8,"x":3.2,"y":0.754},{"c":8,"x":4.5,"y":0.788},{"c":8,"x":8,"y":0.798},{"c":8,"x":10,"y":0.804},{"c":8,"x":14,"y":0.817},{"c":8,"x":18,"y":0.816},{"c":8,"x":22,"y":0.825},{"c":8,"x":26,"y":0.839},{"c":8,"x":30,"y":0.855},
{"c":9,"x":2.58,"y":0.6},{"c":9,"x":3.2,"y":0.742},{"c":9,"x":4.5,"y":0.776},{"c":9,"x":8,"y":0.787},{"c":9,"x":10,"y":0.793},{"c":9,"x":14,"y":0.806},{"c":9,"x":18,"y":0.804},{"c":9,"x":22,"y":0.813},{"c":9,"x":26,"y":0.827},{"c":9,"x":30,"y":0.844},
{"c":10,"x":2.6,"y":0.6},{"c":10,"x":3.2,"y":0.73},{"c":10,"x":4.5,"y":0.763},{"c":10,"x":8,"y":0.775},{"c":10,"x":10,"y":0.782},{"c":10,"x":14,"y":0.795},{"c":10,"x":18,"y":0.791},{"c":10,"x":22,"y":0.8},{"c":10,"x":26,"y":0.815},{"c":10,"x":30,"y":0.833}
],
"c3":[
{"c":0,"x":2.2,"y":0.6},{"c":0,"x":3.2,"y":0.96},{"c":0,"x":3.9,"y":1.0},{"c":0,"x":5,"y":0.985},{"c":0,"x":6.5,"y":0.955},{"c":0,"x":8.5,"y":0.934},{"c":0,"x":11,"y":0.926},{"c":0,"x":14,"y":0.925},{"c":0,"x":18,"y":0.93},{"c":0,"x":22,"y":0.935},{"c":0,"x":26,"y":0.941},{"c":0,"x":30,"y":0.948},
{"c":1,"x":2.225,"y":0.6},{"c":1,"x":3.2,"y":0.946},{"c":1,"x":3.9,"y":0.984},{"c":1,"x":5,"y":0.97},{"c":1,"x":6.5,"y":0.942},{"c":1,"x":8.5,"y":0.922},{"c":1,"x":11,"y":0.915},{"c":1,"x":14,"y":0.914},{"c":1,"x":18,"y":0.917},{"c":1,"x":22,"y":0.922},{"c":1,"x":26,"y":0.929},{"c":1,"x":30,"y":0.937},
{"c":2,"x":2.25,"y":0.6},{"c":2,"x":3.2,"y":0.932},{"c":2,"x":3.9,"y":0.969},{"c":2,"x":5,"y":0.956},{"c":2,"x":6.5,"y":0.929},{"c":2,"x":8.5,"y":0.91},{"c":2,"x":11,"y":0.903},{"c":2,"x":14,"y":0.902},{"c":2,"x":18,"y":0.904},{"c":2,"x":22,"y":0.909},{"c":2,"x":26,"y":0.917},{"c":2,"x":30,"y":0.925},
{"c":3,"x":2.275,"y":0.6},{"c":3,"x":3.2,"y":0.918},{"c":3,"x":3.9,"y":0.953},{"c":3,"x":5,"y":0.941},{"c":3,"x":6.5,"y":0.915},{"c":3,"x":8.5,"y":0.898},{"c":3,"x":11,"y":0.892},{"c":3,"x":14,"y":0.891},{"c":3,"x":18,"y":0.89},{"c":3,"x":22,"y":0.896},{"c":3,"x":26,"y":0.904},{"c":3,"x":30,"y":0.914},
{"c":4,"x":2.3,"y":0.6},{"c":4,"x":3.2,"y":0.904},{"c":4,"x":3.9,"y":0.937},{"c":4,"x":5,"y":0.926},{"c":4,"x":6.5,"y":0.902},{"c":4,"x":8.5,"y":0.886},{"c":4,"x":11,"y":0.88},{"c":4,"x":14,"y":0.879},{"c":4,"x":18,"y":0.877},{"c":4,"x":22,"y":0.883},{"c":4,"x":26,"y":0.892},{"c":4,"x":30,"y":0.902},
{"c":5,"x":2.325,"y":0.6},{"c":5,"x":3.2,"y":0.89},{"c":5,"x":3.9,"y":0.922},{"c":5,"x":5,"y":0.912},{"c":5,"x":6.5,"y":0.889},{"c":5,"x":8.5,"y":0.874},{"c":5,"x":11,"y":0.869},{"c":5,"x":14,"y":0.868},{"c":5,"x":18,"y":0.864},{"c":5,"x":22,"y":0.87},{"c":5,"x":26,"y":0.88},{"c":5,"x":30,"y":0.891},
{"c":6,"x":2.35,"y":0.6},{"c":6,"x":3.2,"y":0.876},{"c":6,"x":3.9,"y":0.906},{"c":6,"x":5,"y":0.897},{"c":6,"x":6.5,"y":0.876},{"c":6,"x":8.5,"y":0.862},{"c":6,"x":11,"y":0.857},{"c":6,"x":14,"y":0.856},{"c":6,"x":18,"y":0.851},{"c":6,"x":22,"y":0.856},{"c":6,"x":26,"y":0.868},{"c":6,"x":30,"y":0.88},
{"c":7,"x":2.375,"y":0.6},{"c":7,"x":3.2,"y":0.862},{"c":7,"x":3.9,"y":0.89},{"c":7,"x":5,"y":0.882},{"c":7,"x":6.5,"y":0.863},{"c":7,"x":8.5,"y":0.85},{"c":7,"x":11,"y":0.846},{"c":7,"x":14,"y":0.845},{"c":7,"x":18,"y":0.838},{"c":7,"x":22,"y":0.843},{"c":7,"x":26,"y":0.856},{"c":7,"x":30,"y":0.868},
{"c":8,"x":2.4,"y":0.6},{"c":8,"x":3.2,"y":0.848},{"c":8,"x":3.9,"y":0.874},{"c":8,"x":5,"y":0.867},{"c":8,"x":6.5,"y":0.849},{"c":8,"x":8.5,"y":0.838},{"c":8,"x":11,"y":0.834},{"c":8,"x":14,"y":0.833},{"c":8,"x":18,"y":0.824},{"c":8,"x":22,"y":0.83},{"c":8,"x":26,"y":0.843},{"c":8,"x":30,"y":0.857},
{"c":9,"x":2.425,"y":0.6},{"c":9,"x":3.2,"y":0.834},{"c":9,"x":3.9,"y":0.859},{"c":9,"x":5,"y":0.853},{"c":9,"x":6.5,"y":0.836},{"c":9,"x":8.5,"y":0.826},{"c":9,"x":11,"y":0.823},{"c":9,"x":14,"y":0.822},{"c":9,"x":18,"y":0.811},{"c":9,"x":22,"y":0.817},{"c":9,"x":26,"y":0.831},{"c":9,"x":30,"y":0.845},
{"c":10,"x":2.45,"y":0.6},{"c":10,"x":3.2,"y":0.82},{"c":10,"x":3.9,"y":0.843},{"c":10,"x":5,"y":0.838},{"c":10,"x":6.5,"y":0.823},{"c":10,"x":8.5,"y":0.814},{"c":10,"x":11,"y":0.811},{"c":10,"x":14,"y":0.81},{"c":10,"x":18,"y":0.798},{"c":10,"x":22,"y":0.804},{"c":10,"x":26,"y":0.819},{"c":10,"x":30,"y":0.834}
],
"c4":[
{"c":0,"x":2.25,"y":0.6},{"c":0,"x":2.9,"y":1.17},{"c":0,"x":3.5,"y":1.29},{"c":0,"x":4.5,"y":1.25},{"c":0,"x":5.5,"y":1.19},{"c":0,"x":7,"y":1.115},{"c":0,"x":8.5,"y":1.05},{"c":0,"x":10,"y":1.005},{"c":0,"x":12,"y":0.98},{"c":0,"x":15,"y":0.965},{"c":0,"x":19.5,"y":0.956},{"c":0,"x":25,"y":0.956},{"c":0,"x":30,"y":0.96},
{"c":1,"x":2.27,"y":0.6},{"c":1,"x":2.9,"y":1.148},{"c":1,"x":3.5,"y":1.268},{"c":1,"x":4.5,"y":1.224},{"c":1,"x":5.5,"y":1.164},{"c":1,"x":7,"y":1.092},{"c":1,"x":8.5,"y":1.031},{"c":1,"x":10,"y":0.989},{"c":1,"x":12,"y":0.966},{"c":1,"x":15,"y":0.951},{"c":1,"x":19.5,"y":0.942},{"c":1,"x":25,"y":0.943},{"c":1,"x":30,"y":0.948},
{"c":2,"x":2.29,"y":0.6},{"c":2,"x":2.9,"y":1.126},{"c":2,"x":3.5,"y":1.245},{"c":2,"x":4.5,"y":1.198},{"c":2,"x":5.5,"y":1.137},{"c":2,"x":7,"y":1.068},{"c":2,"x":8.5,"y":1.012},{"c":2,"x":10,"y":0.974},{"c":2,"x":12,"y":0.952},{"c":2,"x":15,"y":0.938},{"c":2,"x":19.5,"y":0.927},{"c":2,"x":25,"y":0.929},{"c":2,"x":30,"y":0.937},
{"c":3,"x":2.31,"y":0.6},{"c":3,"x":2.9,"y":1.104},{"c":3,"x":3.5,"y":1.223},{"c":3,"x":4.5,"y":1.172},{"c":3,"x":5.5,"y":1.111},{"c":3,"x":7,"y":1.045},{"c":3,"x":8.5,"y":0.993},{"c":3,"x":10,"y":0.958},{"c":3,"x":12,"y":0.938},{"c":3,"x":15,"y":0.924},{"c":3,"x":19.5,"y":0.913},{"c":3,"x":25,"y":0.916},{"c":3,"x":30,"y":0.925},
{"c":4,"x":2.33,"y":0.6},{"c":4,"x":2.9,"y":1.082},{"c":4,"x":3.5,"y":1.2},{"c":4,"x":4.5,"y":1.146},{"c":4,"x":5.5,"y":1.084},{"c":4,"x":7,"y":1.021},{"c":4,"x":8.5,"y":0.974},{"c":4,"x":10,"y":0.942},{"c":4,"x":12,"y":0.924},{"c":4,"x":15,"y":0.91},{"c":4,"x":19.5,"y":0.898},{"c":4,"x":25,"y":0.903},{"c":4,"x":30,"y":0.914},
{"c":5,"x":2.35,"y":0.6},{"c":5,"x":2.9,"y":1.06},{"c":5,"x":3.5,"y":1.178},{"c":5,"x":4.5,"y":1.12},{"c":5,"x":5.5,"y":1.058},{"c":5,"x":7,"y":0.998},{"c":5,"x":8.5,"y":0.955},{"c":5,"x":10,"y":0.927},{"c":5,"x":12,"y":0.91},{"c":5,"x":15,"y":0.897},{"c":5,"x":19.5,"y":0.884},{"c":5,"x":25,"y":0.89},{"c":5,"x":30,"y":0.902},
{"c":6,"x":2.37,"y":0.6},{"c":6,"x":2.9,"y":1.038},{"c":6,"x":3.5,"y":1.155},{"c":6,"x":4.5,"y":1.094},{"c":6,"x":5.5,"y":1.031},{"c":6,"x":7,"y":0.974},{"c":6,"x":8.5,"y":0.936},{"c":6,"x":10,"y":0.911},{"c":6,"x":12,"y":0.896},{"c":6,"x":15,"y":0.883},{"c":6,"x":19.5,"y":0.87},{"c":6,"x":25,"y":0.876},{"c":6,"x":30,"y":0.89},
{"c":7,"x":2.39,"y":0.6},{"c":7,"x":2.9,"y":1.016},{"c":7,"x":3.5,"y":1.133},{"c":7,"x":4.5,"y":1.068},{"c":7,"x":5.5,"y":1.005},{"c":7,"x":7,"y":0.951},{"c":7,"x":8.5,"y":0.917},{"c":7,"x":10,"y":0.895},{"c":7,"x":12,"y":0.882},{"c":7,"x":15,"y":0.869},{"c":7,"x":19.5,"y":0.855},{"c":7,"x":25,"y":0.863},{"c":7,"x":30,"y":0.879},
{"c":8,"x":2.41,"y":0.6},{"c":8,"x":2.9,"y":0.994},{"c":8,"x":3.5,"y":1.11},{"c":8,"x":4.5,"y":1.042},{"c":8,"x":5.5,"y":0.978},{"c":8,"x":7,"y":0.927},{"c":8,"x":8.5,"y":0.898},{"c":8,"x":10,"y":0.879},{"c":8,"x":12,"y":0.868},{"c":8,"x":15,"y":0.855},{"c":8,"x":19.5,"y":0.841},{"c":8,"x":25,"y":0.85},{"c":8,"x":30,"y":0.867},
{"c":9,"x":2.43,"y":0.6},{"c":9,"x":2.9,"y":0.972},{"c":9,"x":3.5,"y":1.088},{"c":9,"x":4.5,"y":1.016},{"c":9,"x":5.5,"y":0.952},{"c":9,"x":7,"y":0.904},{"c":9,"x":8.5,"y":0.879},{"c":9,"x":10,"y":0.864},{"c":9,"x":12,"y":0.854},{"c":9,"x":15,"y":0.842},{"c":9,"x":19.5,"y":0.826},{"c":9,"x":25,"y":0.836},{"c":9,"x":30,"y":0.856},
{"c":10,"x":2.45,"y":0.6},{"c":10,"x":2.9,"y":0.95},{"c":10,"x":3.5,"y":1.065},{"c":10,"x":4.5,"y":0.99},{"c":10,"x":5.5,"y":0.925},{"c":10,"x":7,"y":0.88},{"c":10,"x":8.5,"y":0.86},{"c":10,"x":10,"y":0.848},{"c":10,"x":12,"y":0.84},{"c":10,"x":15,"y":0.828},{"c":10,"x":19.5,"y":0.812},{"c":10,"x":25,"y":0.823},{"c":10,"x":30,"y":0.844}
]
},
"concat":[
 {"width":207,"height":155.5,"title":{"text":"ℓ = 0"},"layer":[
  {"data":{"name":"a1"},"mark":{"type":"line","clip":true,"interpolate":"monotone","color":"#707070","strokeWidth":0.9},
   "encoding":{"x":{"field":"x","type":"quantitative","scale":{"domain":[0,20],"nice":false,"zero":false},"axis":{"title":"r","tickCount":10,"labelExpr":"datum.value % 10 ? '' : datum.label","tickSize":{"condition":{"test":"datum.value % 10 === 0","value":4},"value":2}}},
    "y":{"field":"y","type":"quantitative","scale":{"domain":[0.4,1],"nice":false,"zero":false},"axis":{"title":null,"tickCount":30,"labelExpr":"round(datum.value*100) % 10 ? '' : format(datum.value,'~g')","tickSize":{"condition":{"test":"round(datum.value*100) % 10 === 0","value":4},"value":2}}},
    "detail":{"field":"c","type":"nominal"}}}]},
 {"width":207,"height":155.5,"title":{"text":"ℓ = 0"},"layer":[
  {"data":{"values":[{}]},"mark":{"type":"rule","color":"#c4c4c4","strokeWidth":0.8,"strokeDash":[1.5,1.5]},"encoding":{"y":{"datum":1}}},
  {"data":{"name":"b1"},"mark":{"type":"line","clip":true,"interpolate":"monotone","color":"#707070","strokeWidth":0.9},
   "encoding":{"x":{"field":"x","type":"quantitative","scale":{"domain":[0,40],"nice":false,"zero":false},"axis":{"title":"r","tickCount":20,"labelExpr":"(datum.value % 10) || datum.value == 0 ? '' : datum.label","tickSize":{"condition":{"test":"datum.value % 10 === 0","value":4},"value":2}}},
    "y":{"field":"y","type":"quantitative","scale":{"domain":[0.8,1.1],"nice":false,"zero":false},"axis":{"title":null,"tickCount":15,"labelExpr":"round(datum.value*100) % 10 ? '' : format(datum.value,'~g')","tickSize":{"condition":{"test":"round(datum.value*100) % 10 === 0","value":4},"value":2}}},
    "detail":{"field":"c","type":"nominal"}}}]},
 {"width":207,"height":155.5,"title":{"text":"ℓ = 0"},"layer":[
  {"data":{"values":[{}]},"mark":{"type":"rule","color":"#c4c4c4","strokeWidth":0.8,"strokeDash":[1.5,1.5]},"encoding":{"y":{"datum":1}}},
  {"data":{"name":"c1"},"mark":{"type":"line","clip":true,"interpolate":"monotone","color":"#707070","strokeWidth":0.9},
   "encoding":{"x":{"field":"x","type":"quantitative","scale":{"domain":[0,30],"nice":false,"zero":false},"axis":{"title":"r","tickCount":15,"labelExpr":"(datum.value % 10) || datum.value == 0 ? '' : datum.label","tickSize":{"condition":{"test":"datum.value % 10 === 0","value":4},"value":2}}},
    "y":{"field":"y","type":"quantitative","scale":{"domain":[0.6,1.048],"nice":false,"zero":false},"axis":{"title":null,"tickCount":22,"labelExpr":"round(datum.value*100) % 10 ? '' : format(datum.value,'~g')","tickSize":{"condition":{"test":"round(datum.value*100) % 10 === 0","value":4},"value":2}}},
    "detail":{"field":"c","type":"nominal"}}}]},
 {"width":207,"height":155.5,"title":{"text":"ℓ = 2√3 M"},"layer":[
  {"data":{"name":"a2"},"mark":{"type":"line","clip":true,"interpolate":"monotone","color":"#707070","strokeWidth":0.9},
   "encoding":{"x":{"field":"x","type":"quantitative","scale":{"domain":[0,20],"nice":false,"zero":false},"axis":{"title":"r","tickCount":10,"labelExpr":"datum.value % 10 ? '' : datum.label","tickSize":{"condition":{"test":"datum.value % 10 === 0","value":4},"value":2}}},
    "y":{"field":"y","type":"quantitative","scale":{"domain":[0.4,1],"nice":false,"zero":false},"axis":{"title":null,"tickCount":30,"labelExpr":"round(datum.value*100) % 10 ? '' : format(datum.value,'~g')","tickSize":{"condition":{"test":"round(datum.value*100) % 10 === 0","value":4},"value":2}}},
    "detail":{"field":"c","type":"nominal"}}}]},
 {"width":207,"height":155.5,"title":{"text":"ℓ = 2√3 M"},"layer":[
  {"data":{"values":[{}]},"mark":{"type":"rule","color":"#c4c4c4","strokeWidth":0.8,"strokeDash":[1.5,1.5]},"encoding":{"y":{"datum":1}}},
  {"data":{"name":"b2"},"mark":{"type":"line","clip":true,"interpolate":"monotone","color":"#707070","strokeWidth":0.9},
   "encoding":{"x":{"field":"x","type":"quantitative","scale":{"domain":[0,40],"nice":false,"zero":false},"axis":{"title":"r","tickCount":20,"labelExpr":"(datum.value % 10) || datum.value == 0 ? '' : datum.label","tickSize":{"condition":{"test":"datum.value % 10 === 0","value":4},"value":2}}},
    "y":{"field":"y","type":"quantitative","scale":{"domain":[0.8,1.1],"nice":false,"zero":false},"axis":{"title":null,"tickCount":15,"labelExpr":"round(datum.value*100) % 10 ? '' : format(datum.value,'~g')","tickSize":{"condition":{"test":"round(datum.value*100) % 10 === 0","value":4},"value":2}}},
    "detail":{"field":"c","type":"nominal"}}}]},
 {"width":207,"height":155.5,"title":{"text":"ℓ = 2√3 M"},"layer":[
  {"data":{"values":[{}]},"mark":{"type":"rule","color":"#c4c4c4","strokeWidth":0.8,"strokeDash":[1.5,1.5]},"encoding":{"y":{"datum":1}}},
  {"data":{"name":"c2"},"mark":{"type":"line","clip":true,"interpolate":"monotone","color":"#707070","strokeWidth":0.9},
   "encoding":{"x":{"field":"x","type":"quantitative","scale":{"domain":[0,30],"nice":false,"zero":false},"axis":{"title":"r","tickCount":15,"labelExpr":"(datum.value % 10) || datum.value == 0 ? '' : datum.label","tickSize":{"condition":{"test":"datum.value % 10 === 0","value":4},"value":2}}},
    "y":{"field":"y","type":"quantitative","scale":{"domain":[0.6,1.048],"nice":false,"zero":false},"axis":{"title":null,"tickCount":22,"labelExpr":"round(datum.value*100) % 10 ? '' : format(datum.value,'~g')","tickSize":{"condition":{"test":"round(datum.value*100) % 10 === 0","value":4},"value":2}}},
    "detail":{"field":"c","type":"nominal"}}}]},
 {"width":207,"height":155.5,"title":{"text":"ℓ = 4M"},"layer":[
  {"data":{"name":"a3"},"mark":{"type":"line","clip":true,"interpolate":"monotone","color":"#707070","strokeWidth":0.9},
   "encoding":{"x":{"field":"x","type":"quantitative","scale":{"domain":[0,20],"nice":false,"zero":false},"axis":{"title":"r","tickCount":10,"labelExpr":"datum.value % 10 ? '' : datum.label","tickSize":{"condition":{"test":"datum.value % 10 === 0","value":4},"value":2}}},
    "y":{"field":"y","type":"quantitative","scale":{"domain":[0.4,1],"nice":false,"zero":false},"axis":{"title":null,"tickCount":30,"labelExpr":"round(datum.value*100) % 10 ? '' : format(datum.value,'~g')","tickSize":{"condition":{"test":"round(datum.value*100) % 10 === 0","value":4},"value":2}}},
    "detail":{"field":"c","type":"nominal"}}}]},
 {"width":207,"height":155.5,"title":{"text":"ℓ = 4M"},"layer":[
  {"data":{"values":[{}]},"mark":{"type":"rule","color":"#c4c4c4","strokeWidth":0.8,"strokeDash":[1.5,1.5]},"encoding":{"y":{"datum":1}}},
  {"data":{"name":"b3"},"mark":{"type":"line","clip":true,"interpolate":"monotone","color":"#707070","strokeWidth":0.9},
   "encoding":{"x":{"field":"x","type":"quantitative","scale":{"domain":[0,40],"nice":false,"zero":false},"axis":{"title":"r","tickCount":20,"labelExpr":"(datum.value % 10) || datum.value == 0 ? '' : datum.label","tickSize":{"condition":{"test":"datum.value % 10 === 0","value":4},"value":2}}},
    "y":{"field":"y","type":"quantitative","scale":{"domain":[0.8,1.1],"nice":false,"zero":false},"axis":{"title":null,"tickCount":15,"labelExpr":"round(datum.value*100) % 10 ? '' : format(datum.value,'~g')","tickSize":{"condition":{"test":"round(datum.value*100) % 10 === 0","value":4},"value":2}}},
    "detail":{"field":"c","type":"nominal"}}}]},
 {"width":207,"height":155.5,"title":{"text":"ℓ = 4M"},"layer":[
  {"data":{"values":[{}]},"mark":{"type":"rule","color":"#c4c4c4","strokeWidth":0.8,"strokeDash":[1.5,1.5]},"encoding":{"y":{"datum":1}}},
  {"data":{"name":"c3"},"mark":{"type":"line","clip":true,"interpolate":"monotone","color":"#707070","strokeWidth":0.9},
   "encoding":{"x":{"field":"x","type":"quantitative","scale":{"domain":[0,30],"nice":false,"zero":false},"axis":{"title":"r","tickCount":15,"labelExpr":"(datum.value % 10) || datum.value == 0 ? '' : datum.label","tickSize":{"condition":{"test":"datum.value % 10 === 0","value":4},"value":2}}},
    "y":{"field":"y","type":"quantitative","scale":{"domain":[0.6,1.048],"nice":false,"zero":false},"axis":{"title":null,"tickCount":22,"labelExpr":"round(datum.value*100) % 10 ? '' : format(datum.value,'~g')","tickSize":{"condition":{"test":"round(datum.value*100) % 10 === 0","value":4},"value":2}}},
    "detail":{"field":"c","type":"nominal"}}}]},
 {"width":207,"height":231,"title":{"text":"ℓ = 5M"},"layer":[
  {"data":{"values":[{}]},"mark":{"type":"rule","color":"#b0b0b0","strokeWidth":1.1,"strokeDash":[4,3]},"encoding":{"y":{"datum":1}}},
  {"data":{"name":"a4"},"mark":{"type":"line","clip":true,"interpolate":"monotone","color":"#111111","strokeWidth":1.2},
   "encoding":{"x":{"field":"x","type":"quantitative","scale":{"domain":[0,20],"nice":false,"zero":false},"axis":{"title":"r","tickCount":10,"labelExpr":"datum.value % 10 ? '' : datum.label","tickSize":{"condition":{"test":"datum.value % 10 === 0","value":4},"value":2}}},
    "y":{"field":"y","type":"quantitative","scale":{"domain":[0.4,1.3],"nice":false,"zero":false},"axis":{"title":null,"tickCount":45,"labelExpr":"round(datum.value*100) % 10 ? '' : format(datum.value,'~g')","tickSize":{"condition":{"test":"round(datum.value*100) % 10 === 0","value":4},"value":2}}},
    "detail":{"field":"c","type":"nominal"}}}]},
 {"width":207,"height":231,"title":{"text":"ℓ = 5M"},"layer":[
  {"data":{"values":[{}]},"mark":{"type":"rule","color":"#b0b0b0","strokeWidth":1.1,"strokeDash":[4,3]},"encoding":{"y":{"datum":1}}},
  {"data":{"name":"b4"},"mark":{"type":"line","clip":true,"interpolate":"monotone","color":"#111111","strokeWidth":1.2},
   "encoding":{"x":{"field":"x","type":"quantitative","scale":{"domain":[0,40],"nice":false,"zero":false},"axis":{"title":"r","tickCount":20,"labelExpr":"datum.value % 10 ? '' : datum.label","tickSize":{"condition":{"test":"datum.value % 10 === 0","value":4},"value":2}}},
    "y":{"field":"y","type":"quantitative","scale":{"domain":[0.8,1.249],"nice":false,"zero":false},"axis":{"title":null,"tickCount":22,"labelExpr":"round(datum.value*100) % 10 ? '' : format(datum.value,'~g')","tickSize":{"condition":{"test":"round(datum.value*100) % 10 === 0","value":4},"value":2}}},
    "detail":{"field":"c","type":"nominal"}}}]},
 {"width":207,"height":231,"title":{"text":"ℓ = 5M"},"layer":[
  {"data":{"values":[{}]},"mark":{"type":"rule","color":"#b0b0b0","strokeWidth":1.1,"strokeDash":[4,3]},"encoding":{"y":{"datum":1}}},
  {"data":{"name":"c4"},"mark":{"type":"line","clip":true,"interpolate":"monotone","color":"#111111","strokeWidth":1.2},
   "encoding":{"x":{"field":"x","type":"quantitative","scale":{"domain":[0,30],"nice":false,"zero":false},"axis":{"title":"r","tickCount":15,"labelExpr":"(datum.value % 10) || datum.value == 0 ? '' : datum.label","tickSize":{"condition":{"test":"datum.value % 10 === 0","value":4},"value":2}}},
    "y":{"field":"y","type":"quantitative","scale":{"domain":[0.6,1.274],"nice":false,"zero":false},"axis":{"title":null,"tickCount":34,"labelExpr":"round(datum.value*100) % 10 ? '' : format(datum.value,'~g')","tickSize":{"condition":{"test":"round(datum.value*100) % 10 === 0","value":4},"value":2}}},
    "detail":{"field":"c","type":"nominal"}}}]}
]
}
